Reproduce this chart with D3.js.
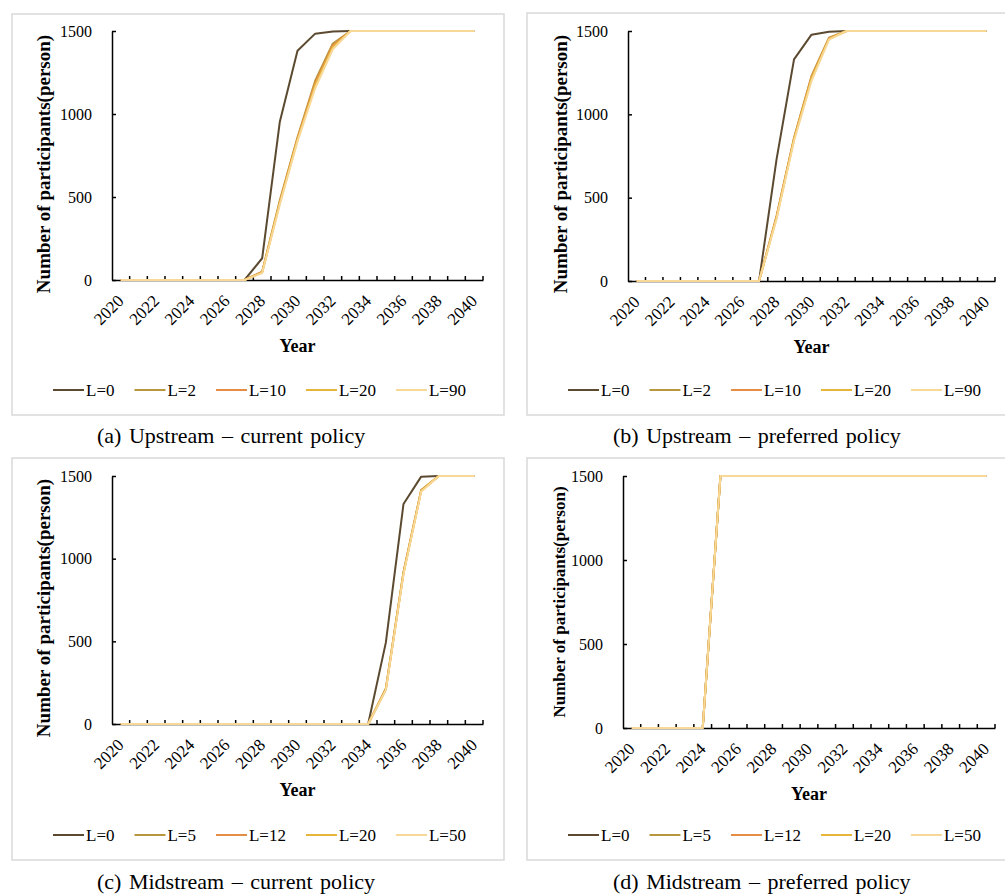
<!DOCTYPE html>
<html>
<head>
<meta charset="utf-8">
<script src="https://cdn.jsdelivr.net/npm/d3@7"></script>
<style>
body { margin: 0; background: #fff; }
text { font-family: "Liberation Serif", "Times New Roman", serif; fill: #000; }
</style>
</head>
<body>
<script>
// categories
var years = ["2020","2021","2022","2023","2024","2025","2026","2027","2028","2029","2030",
             "2031","2032","2033","2034","2035","2036","2037","2038","2039","2040"];
var yTicks = [0, 500, 1000, 1500];
var xLabelYears = ["2020","2022","2024","2026","2028","2030","2032","2034","2036","2038","2040"];

var upLabels = ["L=0", "L=2", "L=10", "L=20", "L=90"];
var midLabels = ["L=0", "L=5", "L=12", "L=20", "L=50"];
var colors = ["#5b4a30", "#b8973f", "#e58d45", "#e7b53a", "#f8d896"];

// (a) Upstream - current policy
var upCurL0  = [0,0,0,0,0,0,0,0,131,954,1381,1484,1497,1500,1500,1500,1500,1500,1500,1500,1500];
var upCurL2  = [0,0,0,0,0,0,0,0,50,480,860,1200,1425,1500,1500,1500,1500,1500,1500,1500,1500];
var upCurL10 = [0,0,0,0,0,0,0,0,48,470,852,1185,1412,1500,1500,1500,1500,1500,1500,1500,1500];
var upCurL20 = [0,0,0,0,0,0,0,0,45,465,845,1172,1402,1500,1500,1500,1500,1500,1500,1500,1500];
var upCurL90 = [0,0,0,0,0,0,0,0,42,455,835,1155,1390,1500,1500,1500,1500,1500,1500,1500,1500];

// (b) Upstream - preferred policy
var upPrefL0  = [0,0,0,0,0,0,0,0,730,1330,1478,1496,1500,1500,1500,1500,1500,1500,1500,1500,1500];
var upPrefL2  = [0,0,0,0,0,0,0,0,390,860,1230,1460,1500,1500,1500,1500,1500,1500,1500,1500,1500];
var upPrefL10 = [0,0,0,0,0,0,0,0,386,855,1222,1456,1500,1500,1500,1500,1500,1500,1500,1500,1500];
var upPrefL20 = [0,0,0,0,0,0,0,0,380,850,1215,1452,1500,1500,1500,1500,1500,1500,1500,1500,1500];
var upPrefL90 = [0,0,0,0,0,0,0,0,372,840,1200,1448,1500,1500,1500,1500,1500,1500,1500,1500,1500];

// (c) Midstream - current policy
var midCurL0  = [0,0,0,0,0,0,0,0,0,0,0,0,0,0,0,492,1331,1496,1500,1500,1500];
var midCurL5  = [0,0,0,0,0,0,0,0,0,0,0,0,0,0,0,215,920,1415,1500,1500,1500];
var midCurL12 = [0,0,0,0,0,0,0,0,0,0,0,0,0,0,0,211,915,1412,1500,1500,1500];
var midCurL20 = [0,0,0,0,0,0,0,0,0,0,0,0,0,0,0,208,912,1410,1500,1500,1500];
var midCurL50 = [0,0,0,0,0,0,0,0,0,0,0,0,0,0,0,205,905,1405,1500,1500,1500];

// (d) Midstream - preferred policy
var midPrefL0  = [0,0,0,0,0,1500,1500,1500,1500,1500,1500,1500,1500,1500,1500,1500,1500,1500,1500,1500,1500];
var midPrefL5  = [0,0,0,0,0,1500,1500,1500,1500,1500,1500,1500,1500,1500,1500,1500,1500,1500,1500,1500,1500];
var midPrefL12 = [0,0,0,0,0,1500,1500,1500,1500,1500,1500,1500,1500,1500,1500,1500,1500,1500,1500,1500,1500];
var midPrefL20 = [0,0,0,0,0,1500,1500,1500,1500,1500,1500,1500,1500,1500,1500,1500,1500,1500,1500,1500,1500];
var midPrefL50 = [0,0,0,0,0,1500,1500,1500,1500,1500,1500,1500,1500,1500,1500,1500,1500,1500,1500,1500,1500];

var captions = ["(a) Upstream \u2013 current policy", "(b) Upstream \u2013 preferred policy",
                "(c) Midstream \u2013 current policy", "(d) Midstream \u2013 preferred policy"];

var panels = [
    {caption: captions[0], labels: upLabels, series: [upCurL0, upCurL2, upCurL10, upCurL20, upCurL90],
     box: [12, 14, 492, 401], x0: 112, x1: 483, yTop: 31, yBot: 280,
     titleX: 50, titleY: 164, titleSize: 19, legendX: 53, legendY: 390, capX: 97, capY: 443},
    {caption: captions[1], labels: upLabels, series: [upPrefL0, upPrefL2, upPrefL10, upPrefL20, upPrefL90],
     box: [527, 13, 490, 402], x0: 628, x1: 995, yTop: 31, yBot: 281,
     titleX: 567, titleY: 164, titleSize: 19, legendX: 568, legendY: 390, capX: 613, capY: 443},
    {caption: captions[2], labels: midLabels, series: [midCurL0, midCurL5, midCurL12, midCurL20, midCurL50],
     box: [12, 458, 492, 402], x0: 112, x1: 483, yTop: 476, yBot: 724,
     titleX: 50, titleY: 608, titleSize: 19, legendX: 53, legendY: 835, capX: 97, capY: 889},
    {caption: captions[3], labels: midLabels, series: [midPrefL0, midPrefL5, midPrefL12, midPrefL20, midPrefL50],
     box: [527, 458, 490, 402], x0: 623, x1: 995, yTop: 476, yBot: 728,
     titleX: 565, titleY: 602, titleSize: 17, legendX: 568, legendY: 835, capX: 613, capY: 889}
];

var svg = d3.select("body").append("svg")
    .attr("width", 1005)
    .attr("height", 895);

panels.forEach(function(p) {
    var g = svg.append("g");

    g.append("rect")
        .attr("x", p.box[0]).attr("y", p.box[1])
        .attr("width", p.box[2]).attr("height", p.box[3])
        .attr("fill", "none")
        .attr("stroke", "#d9d9d9")
        .attr("stroke-width", 1.5);

    var x = d3.scaleBand().domain(years).range([p.x0, p.x1]).padding(0);
    var y = d3.scaleLinear().domain([0, 1500]).range([p.yBot, p.yTop]);
    var half = x.bandwidth() / 2;

    // y axis
    var yAxis = g.append("g")
        .attr("transform", "translate(" + p.x0 + ",0)")
        .call(d3.axisLeft(y).tickValues(yTicks).tickFormat(d3.format("d"))
            .tickSizeInner(-4).tickSizeOuter(0).tickPadding(20));
    yAxis.select(".domain").attr("stroke", "#000").attr("stroke-width", 1.5);
    yAxis.selectAll(".tick line").attr("stroke-width", 1.5);
    yAxis.selectAll("text")
        .style("font-family", "'Liberation Serif', 'Times New Roman', serif")
        .style("font-size", "16px");

    // x axis
    var xAxis = g.append("g")
        .attr("transform", "translate(0," + p.yBot + ")")
        .call(d3.axisBottom(x).tickValues(xLabelYears).tickSize(0).tickSizeOuter(0));
    xAxis.select(".domain").attr("stroke", "#000").attr("stroke-width", 1.5);
    xAxis.selectAll("text")
        .style("font-family", "'Liberation Serif', 'Times New Roman', serif")
        .style("font-size", "17px")
        .attr("text-anchor", "end")
        .attr("x", 0).attr("y", 0).attr("dy", 0)
        .attr("transform", "translate(4,22) rotate(-45)");

    // tick marks sit on the category boundaries, pointing inward
    g.selectAll(".btick")
        .data(years)
        .enter()
        .append("line")
        .attr("class", "btick")
        .attr("x1", d => x(d) + x.bandwidth())
        .attr("x2", d => x(d) + x.bandwidth())
        .attr("y1", p.yBot)
        .attr("y2", p.yBot - 4)
        .attr("stroke", "#000")
        .attr("stroke-width", 1.5);

    // series
    var line = d3.line()
        .x((d, i) => x(years[i]) + half)
        .y(d => y(d));

    g.selectAll(".series")
        .data(p.series)
        .enter()
        .append("path")
        .attr("class", "series")
        .attr("fill", "none")
        .attr("stroke", (d, i) => colors[i])
        .attr("stroke-width", 2)
        .attr("stroke-linejoin", "round")
        .attr("d", line);

    // axis titles
    g.append("text")
        .attr("transform", "translate(" + p.titleX + "," + p.titleY + ") rotate(-90)")
        .attr("text-anchor", "middle")
        .style("font-weight", "bold")
        .style("font-size", p.titleSize + "px")
        .text("Number of participants(person)");

    g.append("text")
        .attr("x", (p.x0 + p.x1) / 2)
        .attr("y", p.yBot + 72)
        .attr("text-anchor", "middle")
        .style("font-weight", "bold")
        .style("font-size", "18px")
        .text("Year");

    // legend
    var lx = p.legendX;
    p.labels.forEach(function(lab, i) {
        g.append("line")
            .attr("x1", lx).attr("x2", lx + 31)
            .attr("y1", p.legendY).attr("y2", p.legendY)
            .attr("stroke", colors[i])
            .attr("stroke-width", 2);
        var t = g.append("text")
            .attr("x", lx + 33)
            .attr("y", p.legendY + 6)
            .style("font-size", "17px")
            .text(lab);
        lx += 33 + t.node().getComputedTextLength() + 20;
    });

    // caption
    g.append("text")
        .attr("x", p.capX)
        .attr("y", p.capY)
        .style("font-size", "22px")
        .style("word-spacing", "2px")
        .text(p.caption);
});
</script>
</body>
</html>
